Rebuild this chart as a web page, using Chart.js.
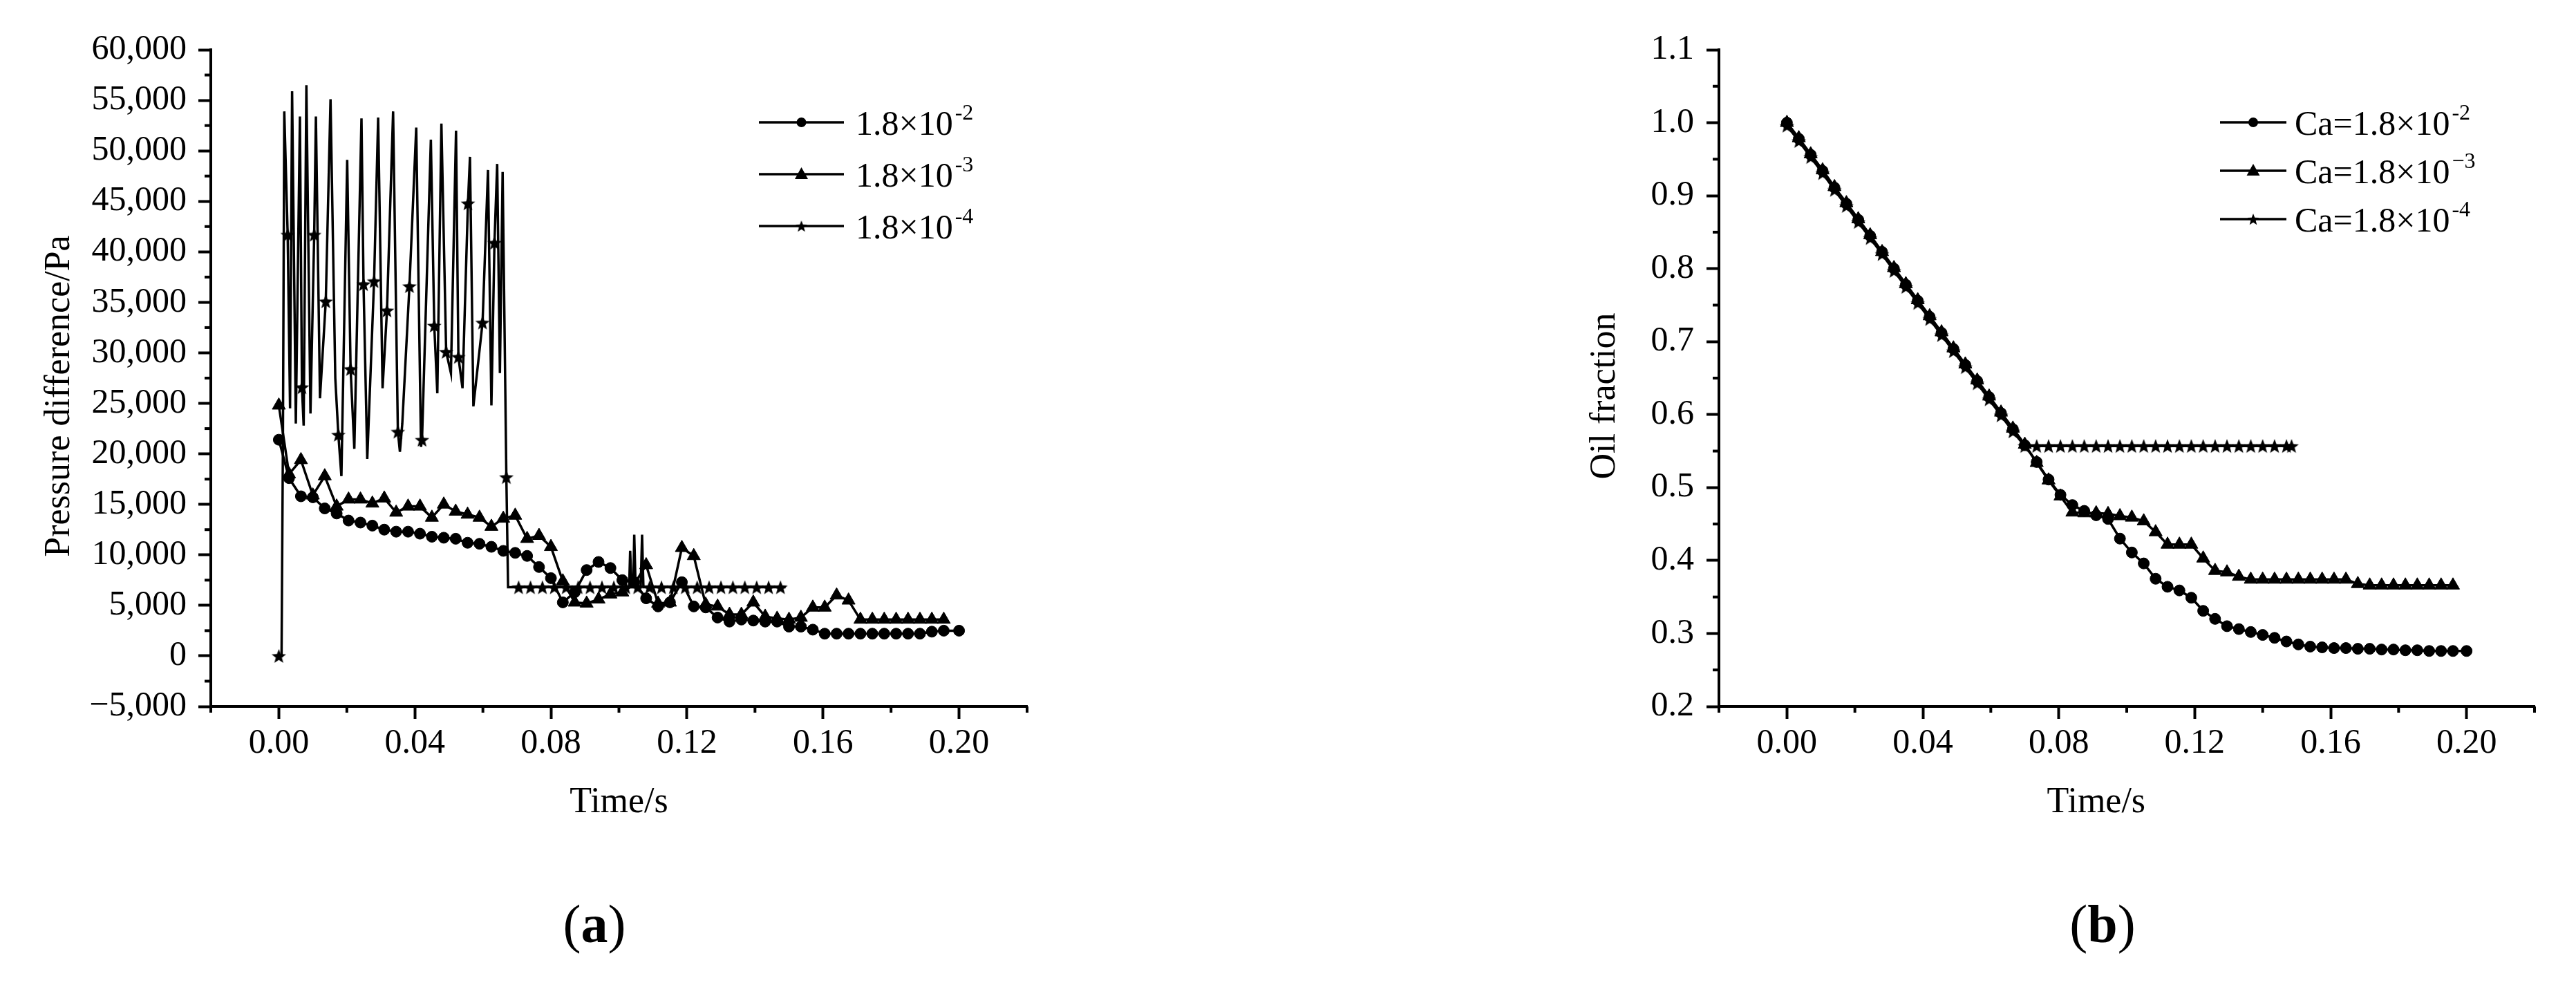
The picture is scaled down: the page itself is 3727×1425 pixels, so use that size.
<!DOCTYPE html>
<html><head><meta charset="utf-8">
<script src="https://cdn.jsdelivr.net/npm/chart.js@4.4.1/dist/chart.umd.min.js"></script>
<style>
html,body{margin:0;padding:0;background:#fff;width:3727px;height:1425px;overflow:hidden;}
.wrap{position:absolute;top:0;}
.cap{position:absolute;font-family:"Liberation Serif","Times New Roman",serif;font-size:78px;color:#000;transform:translate(-50%,-50%);white-space:nowrap;line-height:1;}
</style></head><body>
<div class="wrap" style="left:0px;"><canvas id="cA" width="1700" height="1300"></canvas></div>
<div class="wrap" style="left:2000px;"><canvas id="cB" width="1727" height="1300"></canvas></div>
<div class="cap" style="left:860px;top:1337px">(<b>a</b>)</div>
<div class="cap" style="left:3042px;top:1337px">(<b>b</b>)</div>
<script>
// ---------- DATA ----------
const timeTicks = [0, 0.04, 0.08, 0.12, 0.16, 0.20];
const timeMinor = [-0.02, 0.02, 0.06, 0.10, 0.14, 0.18, 0.22];
const pressureTicks = [-5000,0,5000,10000,15000,20000,25000,30000,35000,40000,45000,50000,55000,60000];
const pressureMinor = [-2500,2500,7500,12500,17500,22500,27500,32500,37500,42500,47500,52500,57500];
const oilTicks = [0.2,0.3,0.4,0.5,0.6,0.7,0.8,0.9,1.0,1.1];
const oilMinor = [0.25,0.35,0.45,0.55,0.65,0.75,0.85,0.95,1.05];

const leftLegendText = ['1.8×10','1.8×10','1.8×10'];
const leftLegendExp = ['-2','-3','-4'];
const rightLegendText = ['Ca=1.8×10','Ca=1.8×10','Ca=1.8×10'];
const rightLegendExp = ['-2','\u22123','-4'];

// (a) pressure difference, Ca = 1.8e-2 (circles)
const pCircT = [0,0.0030,0.0065,0.0100,0.0135,0.0170,0.0205,0.0240,0.0275,0.0310,0.0345,0.0380,0.0415,0.0450,0.0485,0.0520,0.0555,0.0590,0.0625,0.0660,0.0695,0.0730,0.0765,0.0800,0.0835,0.0870,0.0905,0.0940,0.0975,0.1010,0.1045,0.1080,0.1115,0.1150,0.1185,0.1220,0.1255,0.1290,0.1325,0.1360,0.1395,0.1430,0.1465,0.1500,0.1535,0.1570,0.1605,0.1640,0.1675,0.1710,0.1745,0.1780,0.1815,0.1850,0.1885,0.1920,0.1955,0.2000];
const pCircV = [21400,17600,15800,15700,14600,14100,13400,13200,12900,12500,12300,12300,12100,11800,11700,11600,11200,11100,10800,10400,10200,9900,8800,7700,5300,6300,8500,9300,8700,7500,7300,5700,4900,5300,7300,4900,4800,3800,3400,3600,3500,3400,3400,2900,2900,2600,2200,2200,2200,2200,2200,2200,2200,2200,2200,2400,2500,2500];
// Ca = 1.8e-3 (triangles)
const pTriT = [0,0.0030,0.0065,0.0100,0.0135,0.0170,0.0205,0.0240,0.0275,0.0310,0.0345,0.0380,0.0415,0.0450,0.0485,0.0520,0.0555,0.0590,0.0625,0.0660,0.0695,0.0730,0.0765,0.0800,0.0835,0.0870,0.0905,0.0940,0.0975,0.1010,0.1045,0.1080,0.1115,0.1150,0.1185,0.1220,0.1255,0.1290,0.1325,0.1360,0.1395,0.1430,0.1465,0.1500,0.1535,0.1570,0.1605,0.1640,0.1675,0.1710,0.1745,0.1780,0.1815,0.1850,0.1885,0.1920,0.1955];
const pTriV = [24800,18000,19400,15900,17800,14800,15500,15500,15100,15600,14200,14800,14800,13700,15000,14300,14000,13700,12800,13600,13900,11600,11900,10800,7400,5300,5200,5600,6100,6300,7100,9000,5200,5300,10700,9900,5100,4900,4100,4100,5300,3900,3700,3600,3800,4800,4800,6000,5500,3600,3600,3600,3600,3600,3600,3600,3600];
// Ca = 1.8e-4 (stars): full line and marker points
const pStarT = [0,0.0008,0.0012,0.0016,0.0026,0.0033,0.0039,0.0050,0.0062,0.0068,0.0073,0.0081,0.0093,0.0104,0.0109,0.0121,0.0138,0.0152,0.0166,0.0175,0.0184,0.0201,0.0211,0.0222,0.0243,0.0249,0.0260,0.0280,0.0292,0.0305,0.0318,0.0336,0.0350,0.0356,0.0363,0.0384,0.0404,0.0418,0.0421,0.0447,0.0457,0.0466,0.0478,0.0492,0.0506,0.0521,0.0528,0.0540,0.0556,0.0562,0.0572,0.0599,0.0615,0.0625,0.0634,0.0642,0.0650,0.0658,0.0669,0.0674,0.0705,0.0740,0.0775,0.0810,0.0845,0.0880,0.0915,0.0950,0.0985,0.1020,0.1030,0.1033,0.1037,0.1042,0.1045,0.1049,0.1055,0.1064,0.1068,0.1072,0.1090,0.1125,0.1160,0.1195,0.1230,0.1265,0.1300,0.1335,0.1370,0.1405,0.1440,0.1475,0.1490];
const pStarV = [0,0,21000,53900,41700,24500,55900,23000,53400,26600,22800,56500,24000,41700,53400,25500,35100,55100,27500,21900,17800,49100,28400,20500,53200,36800,19500,37100,53300,26500,34200,53900,22200,20200,23000,36600,52300,20700,21400,51100,32700,26000,52700,30100,28000,52000,29600,26500,44800,49400,24700,33000,48100,24800,40900,48700,28000,47900,17700,6800,6800,6800,6800,6800,6800,6800,6800,6800,6800,6800,6800,10400,6800,6800,12000,6800,6800,6800,12000,6800,6800,6800,6800,6800,6800,6800,6800,6800,6800,6800,6800,6800,6800];
const pStarMarkT = [0,0.0026,0.0068,0.0104,0.0138,0.0175,0.0211,0.0249,0.0280,0.0318,0.0350,0.0384,0.0421,0.0457,0.0492,0.0528,0.0556,0.0599,0.0634,0.0669,0.0705,0.0740,0.0775,0.0810,0.0845,0.0880,0.0915,0.0950,0.0985,0.1020,0.1055,0.1090,0.1125,0.1160,0.1195,0.1230,0.1265,0.1300,0.1335,0.1370,0.1405,0.1440,0.1475];
const pStarMarkV = [0,41700,26600,41700,35100,21900,28400,36800,37100,34200,22200,36600,21400,32700,30100,29600,44800,33000,40900,17700,6800,6800,6800,6800,6800,6800,6800,6800,6800,6800,6800,6800,6800,6800,6800,6800,6800,6800,6800,6800,6800,6800,6800];

// (b) oil fraction
const oCircT = [0,0.0035,0.0070,0.0105,0.0140,0.0175,0.0210,0.0245,0.0280,0.0315,0.0350,0.0385,0.0420,0.0455,0.0490,0.0525,0.0560,0.0595,0.0630,0.0665,0.0700,0.0735,0.0770,0.0805,0.0840,0.0875,0.0910,0.0945,0.0980,0.1015,0.1050,0.1085,0.1120,0.1155,0.1190,0.1225,0.1260,0.1295,0.1330,0.1365,0.1400,0.1435,0.1470,0.1505,0.1540,0.1575,0.1610,0.1645,0.1680,0.1715,0.1750,0.1785,0.1820,0.1855,0.1890,0.1925,0.1960,0.2000];
const oCircV = [1.000,0.978,0.956,0.934,0.911,0.889,0.867,0.845,0.823,0.800,0.778,0.756,0.734,0.712,0.690,0.668,0.646,0.624,0.602,0.580,0.558,0.535,0.511,0.490,0.476,0.468,0.462,0.457,0.430,0.411,0.396,0.375,0.364,0.359,0.349,0.331,0.320,0.310,0.306,0.302,0.298,0.294,0.289,0.285,0.282,0.281,0.280,0.280,0.279,0.279,0.278,0.278,0.277,0.277,0.276,0.276,0.276,0.276];
const oTriT = [0,0.0035,0.0070,0.0105,0.0140,0.0175,0.0210,0.0245,0.0280,0.0315,0.0350,0.0385,0.0420,0.0455,0.0490,0.0525,0.0560,0.0595,0.0630,0.0665,0.0700,0.0735,0.0770,0.0805,0.0840,0.0875,0.0910,0.0945,0.0980,0.1015,0.1050,0.1085,0.1120,0.1155,0.1190,0.1225,0.1260,0.1295,0.1330,0.1365,0.1400,0.1435,0.1470,0.1505,0.1540,0.1575,0.1610,0.1645,0.1680,0.1715,0.1750,0.1785,0.1820,0.1855,0.1890,0.1925,0.1960];
const oTriV = [1.000,0.979,0.957,0.935,0.912,0.890,0.868,0.846,0.823,0.801,0.779,0.757,0.735,0.713,0.691,0.669,0.647,0.625,0.603,0.581,0.559,0.534,0.510,0.488,0.466,0.465,0.465,0.464,0.461,0.459,0.454,0.439,0.422,0.422,0.422,0.403,0.386,0.384,0.378,0.374,0.374,0.374,0.374,0.374,0.374,0.374,0.374,0.374,0.368,0.366,0.366,0.366,0.366,0.366,0.366,0.366,0.366];
const oStarT = [0,0.0035,0.0070,0.0105,0.0140,0.0175,0.0210,0.0245,0.0280,0.0315,0.0350,0.0385,0.0420,0.0455,0.0490,0.0525,0.0560,0.0595,0.0630,0.0665,0.0700,0.0735,0.0770,0.0805,0.0840,0.0875,0.0910,0.0945,0.0980,0.1015,0.1050,0.1085,0.1120,0.1155,0.1190,0.1225,0.1260,0.1295,0.1330,0.1365,0.1400,0.1435,0.1470,0.1485];
const oStarV = [0.996,0.975,0.953,0.931,0.908,0.886,0.864,0.842,0.820,0.797,0.775,0.753,0.731,0.709,0.687,0.665,0.643,0.621,0.599,0.577,0.557,0.557,0.557,0.557,0.557,0.557,0.557,0.557,0.557,0.557,0.557,0.557,0.557,0.557,0.557,0.557,0.557,0.557,0.557,0.557,0.557,0.557,0.557,0.557];

// ---------- STYLE / HELPERS ----------
const FONT = '"Liberation Serif","Times New Roman",serif';
Chart.defaults.font.family = FONT;
Chart.defaults.color = '#000';

function makeStar(R){
  const s = Math.ceil(R*2+4);
  const c = document.createElement('canvas'); c.width = s; c.height = s;
  const g = c.getContext('2d');
  g.translate(s/2, s/2 + R*0.1);
  g.beginPath();
  for (let i = 0; i < 10; i++) {
    const r = (i % 2) ? R*0.42 : R;
    const a = -Math.PI/2 + i*Math.PI/5;
    g.lineTo(r*Math.cos(a), r*Math.sin(a));
  }
  g.closePath(); g.fillStyle = '#000'; g.fill();
  return c;
}
const starPlot = makeStar(11);
const starLegend = makeStar(9);

const pts = (T, V) => T.map((t, i) => ({x: t, y: V[i]}));

function drawLegendMarker(ctx, type, x, y){
  ctx.fillStyle = '#000';
  if (type === 'circle') { ctx.beginPath(); ctx.arc(x, y, 7, 0, Math.PI*2); ctx.fill(); }
  else if (type === 'triangle') { ctx.beginPath(); ctx.moveTo(x, y-10); ctx.lineTo(x+9.5, y+7); ctx.lineTo(x-9.5, y+7); ctx.closePath(); ctx.fill(); }
  else { ctx.drawImage(starLegend, x - starLegend.width/2, y - starLegend.height/2); }
}

const customLegend = {
  id: 'customLegend',
  afterDatasetsDraw(chart, args, o){
    if (!o || !o.items) return;
    const ctx = chart.ctx; ctx.save();
    o.items.forEach((it, i) => {
      const y = o.y + i*o.gap;
      ctx.strokeStyle = '#000'; ctx.lineWidth = 3.5;
      ctx.beginPath(); ctx.moveTo(o.x, y); ctx.lineTo(o.x + o.len, y); ctx.stroke();
      drawLegendMarker(ctx, it.marker, o.x + o.len/2, y);
      const tx = o.x + o.len + o.textGap;
      ctx.fillStyle = '#000'; ctx.textAlign = 'left'; ctx.textBaseline = 'alphabetic';
      ctx.font = '50px ' + FONT;
      ctx.fillText(it.text, tx, y + 18);
      const w = ctx.measureText(it.text).width;
      ctx.font = '32px ' + FONT;
      ctx.fillText(it.exp, tx + w + 3, y - 4);
    });
    ctx.restore();
  }
};

const minorTicks = {
  id: 'minorTicks',
  afterDraw(chart, args, o){
    if (!o || !o.x) return;
    const ctx = chart.ctx, xs = chart.scales.x, ys = chart.scales.y;
    ctx.save(); ctx.strokeStyle = '#000'; ctx.lineWidth = 4;
    o.x.forEach(v => { const p = xs.getPixelForValue(v); ctx.beginPath(); ctx.moveTo(p, ys.bottom); ctx.lineTo(p, ys.bottom + o.len); ctx.stroke(); });
    o.y.forEach(v => { const p = ys.getPixelForValue(v); ctx.beginPath(); ctx.moveTo(xs.left, p); ctx.lineTo(xs.left - o.len, p); ctx.stroke(); });
    ctx.restore();
  }
};
Chart.register(customLegend, minorTicks);

function axisCommon(){
  return {
    grid: {drawOnChartArea: false, drawTicks: true, tickLength: 18, tickWidth: 4, tickColor: '#000'},
    border: {display: true, color: '#000', width: 4},
  };
}

function lineDs(data, style, radius){
  return {data, showLine: true, borderColor: '#000', borderWidth: 3.5, tension: 0, fill: false,
    pointStyle: style, pointRadius: radius, pointHoverRadius: radius,
    pointBackgroundColor: '#000', pointBorderColor: '#000', pointBorderWidth: 1};
}

// ---------- CHART (a) ----------
new Chart(document.getElementById('cA'), {
  type: 'scatter',
  data: { datasets: [
    lineDs(pts(pCircT, pCircV), 'circle', 8),
    lineDs(pts(pTriT, pTriV), 'triangle', 11),
    lineDs(pts(pStarT, pStarV), 'circle', 0),
    Object.assign(lineDs(pts(pStarMarkT, pStarMarkV), starPlot, 10), {showLine: false}),
  ]},
  options: {
    responsive: false, animation: false, events: [],
    layout: {padding: {left: 0, top: 72, right: 1700 - 1486, bottom: 1300 - 1222}},
    plugins: {
      legend: {display: false}, tooltip: {enabled: false},
      customLegend: {x: 1098, y: 177, gap: 75, len: 123, textGap: 17,
        items: leftLegendText.map((t, i) => ({text: t, exp: leftLegendExp[i], marker: ['circle','triangle','star'][i]}))},
      minorTicks: {x: timeMinor, y: pressureMinor, len: 9}
    },
    scales: {
      x: Object.assign(axisCommon(), {
        type: 'linear', min: -0.02, max: 0.22,
        afterBuildTicks: s => { s.ticks = timeTicks.map(v => ({value: v})); },
        afterFit: s => { s.height = 200; },
        ticks: {font: {size: 50}, color: '#000', padding: 6, autoSkip: false, maxRotation: 0, callback: v => Number(v).toFixed(2)},
        title: {display: true, text: 'Time/s', font: {size: 52}, color: '#000', padding: {top: 0, bottom: 29}}
      }),
      y: Object.assign(axisCommon(), {
        type: 'linear', min: -5000, max: 60000,
        afterBuildTicks: s => { s.ticks = pressureTicks.map(v => ({value: v})); },
        afterFit: s => { s.width = 305; },
        ticks: {font: {size: 50}, color: '#000', padding: 17, autoSkip: false,
          callback: v => v === 0 ? '0' : (v < 0 ? '\u2212' : '') + Math.abs(v).toLocaleString('en-US')},
        title: {display: true, text: 'Pressure difference/Pa\u2003', font: {size: 52}, color: '#000', padding: {top: 55, bottom: 0}}
      })
    }
  }
});

// ---------- CHART (b) ----------
new Chart(document.getElementById('cB'), {
  type: 'scatter',
  data: { datasets: [
    lineDs(pts(oCircT, oCircV), 'circle', 8),
    lineDs(pts(oTriT, oTriV), 'triangle', 11),
    lineDs(pts(oStarT, oStarV), starPlot, 10),
  ]},
  options: {
    responsive: false, animation: false, events: [],
    layout: {padding: {left: 0, top: 72, right: 1727 - 1667, bottom: 1300 - 1222}},
    plugins: {
      legend: {display: false}, tooltip: {enabled: false},
      customLegend: {x: 1212, y: 177, gap: 70, len: 96, textGap: 12,
        items: rightLegendText.map((t, i) => ({text: t, exp: rightLegendExp[i], marker: ['circle','triangle','star'][i]}))},
      minorTicks: {x: timeMinor, y: oilMinor, len: 9}
    },
    scales: {
      x: Object.assign(axisCommon(), {
        type: 'linear', min: -0.02, max: 0.22,
        afterBuildTicks: s => { s.ticks = timeTicks.map(v => ({value: v})); },
        afterFit: s => { s.height = 200; },
        ticks: {font: {size: 50}, color: '#000', padding: 6, autoSkip: false, maxRotation: 0, callback: v => Number(v).toFixed(2)},
        title: {display: true, text: 'Time/s\u2003\u2002\u2009', font: {size: 52}, color: '#000', padding: {top: 0, bottom: 29}}
      }),
      y: Object.assign(axisCommon(), {
        type: 'linear', min: 0.2, max: 1.1,
        afterBuildTicks: s => { s.ticks = oilTicks.map(v => ({value: v})); },
        afterFit: s => { s.width = 487; },
        ticks: {font: {size: 50}, color: '#000', padding: 18, autoSkip: false, callback: v => Number(v).toFixed(1)},
        title: {display: true, text: 'Oil fraction\u2003', font: {size: 52}, color: '#000', padding: {top: 291, bottom: 0}}
      })
    }
  }
});
</script>
</body></html>
